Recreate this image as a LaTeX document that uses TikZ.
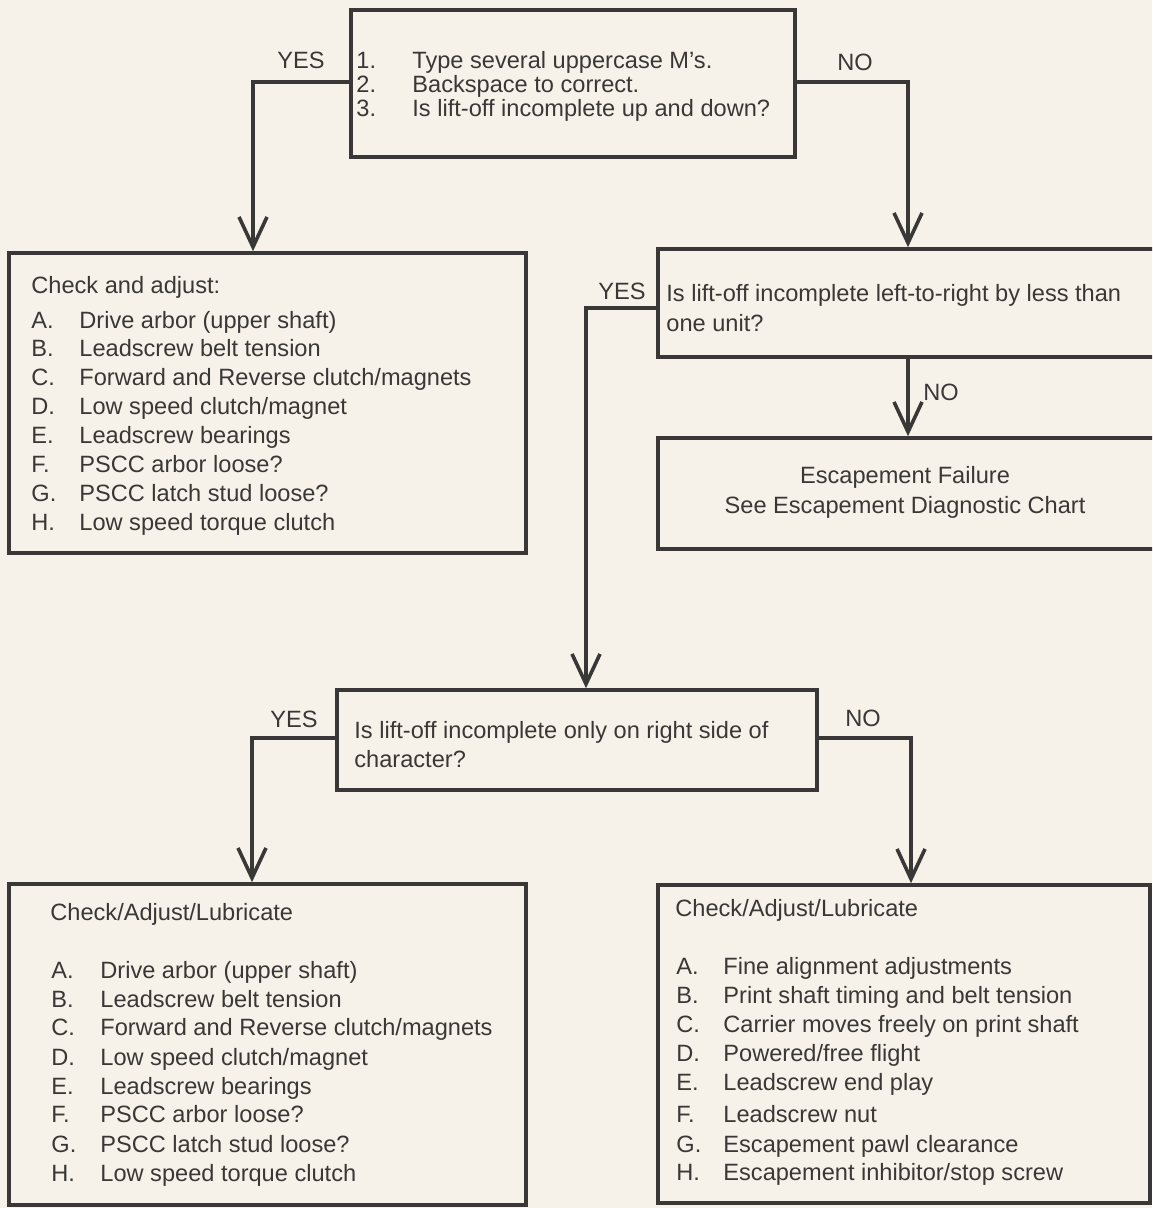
\documentclass[tikz,border=0pt]{standalone}
\usepackage{fontspec}
\setmainfont{Liberation Sans}
\usetikzlibrary{arrows.meta,fit}
\definecolor{paper}{RGB}{246,242,233}
\definecolor{ink}{RGB}{58,56,54}
\begin{document}
\begin{tikzpicture}[x=0.5pt,y=-0.5pt,
  box/.style={draw=ink, line width=1.8pt, inner sep=0pt},
  txt/.style={anchor=west, inner sep=0pt, text height=8.45pt, text depth=0pt, text=ink, font=\fontsize{11.8}{14}\selectfont},
  ctr/.style={txt, anchor=center},
  arr/.style={draw=ink, line width=1.8pt, -{Straight Barb[length=15pt,width=14pt]}}]
\useasboundingbox (0,0) rectangle (1152,1208);
\fill[paper] (0,0) rectangle (1152,1208);
\clip (0,0) rectangle (1152,1208);

% boxes
\node[box, fit={(351,10) (795,157)}] (top) {};
\node[box, fit={(9,253) (526,553)}] (left) {};
\node[box, fit={(658,249) (1175,357)}] (r1) {};
\node[box, fit={(658,438) (1175,549)}] (r2) {};
\node[box, fit={(337,690) (817,790)}] (mid) {};
\node[box, fit={(9,884) (526,1205)}] (bl) {};
\node[box, fit={(658,885) (1150,1203)}] (br) {};

% bend points
\coordinate (c1) at (253,82);
\coordinate (c2) at (908,82);
\coordinate (c3) at (586,308);
\coordinate (c5) at (252,738);
\coordinate (c6) at (911,738);

% connectors
\draw[arr] (top.west |- c1) -- (c1) -- (left.north -| c1);
\draw[arr] (top.east |- c2) -- (c2) -- (r1.north -| c2);
\draw[arr] (r1.west |- c3) -- (c3) -- (mid.north -| c3);
\draw[arr] (r1.south -| c2) -- (r2.north -| c2);
\draw[arr] (mid.west |- c5) -- (c5) -- (bl.north -| c5);
\draw[arr] (mid.east |- c6) -- (c6) -- (br.north -| c6);

% labels
\node[ctr] (y1) at (301,60) {YES};
\node[ctr] (n1) at (855,62) {NO};
\node[ctr] (y2) at (622,291) {YES};
\node[ctr] (n2) at (941,392) {NO};
\node[ctr] (y3) at (294,719) {YES};
\node[ctr] (n3) at (863,718) {NO};

% top box
\node[txt] (tn1) at (356,60) {1.};
\node[txt] (tt1) at (412,60) {Type several uppercase M’s.};
\node[txt] (tn2) at (356,84) {2.};
\node[txt] (tt2) at (412,84) {Backspace to correct.};
\node[txt] (tn3) at (356,108) {3.};
\node[txt] (tt3) at (412,108) {Is lift-off incomplete up and down?};

% left box
\node[txt] (lt) at (31,285) {Check and adjust:};
\foreach \l/\t/\y [count=\i] in {
  A./Drive arbor (upper shaft)/320,
  B./Leadscrew belt tension/348,
  C./Forward and Reverse clutch\slash magnets/377,
  D./Low speed clutch\slash magnet/406,
  E./Leadscrew bearings/435,
  F./PSCC arbor loose?/464,
  G./PSCC latch stud loose?/493,
  H./Low speed torque clutch/522}{
  \node[txt] (ll\i) at (31,\y) {\l};
  \node[txt] (lx\i) at (79,\y) {\t};
}

% right box 1
\node[txt] (r1a) at (666,293) {Is lift-off incomplete left-to-right by less than};
\node[txt] (r1b) at (666,323) {one unit?};

% right box 2
\node[ctr] (r2a) at (905,475) {Escapement Failure};
\node[ctr] (r2b) at (905,505) {See Escapement Diagnostic Chart};

% middle box
\node[txt] (ma) at (354,730) {Is lift-off incomplete only on right side of};
\node[txt] (mb) at (354,759) {character?};

% bottom-left box
\node[txt] (blt) at (50,912) {Check/Adjust/Lubricate};
\foreach \l/\t/\y [count=\i] in {
  A./Drive arbor (upper shaft)/970,
  B./Leadscrew belt tension/999,
  C./Forward and Reverse clutch\slash magnets/1027,
  D./Low speed clutch\slash magnet/1057,
  E./Leadscrew bearings/1086,
  F./PSCC arbor loose?/1114,
  G./PSCC latch stud loose?/1144,
  H./Low speed torque clutch/1173}{
  \node[txt] (bll\i) at (51,\y) {\l};
  \node[txt] (blx\i) at (100,\y) {\t};
}

% bottom-right box
\node[txt] (brt) at (675,908) {Check/Adjust/Lubricate};
\foreach \l/\t/\y [count=\i] in {
  A./Fine alignment adjustments/966,
  B./Print shaft timing and belt tension/995,
  C./Carrier moves freely on print shaft/1024,
  D./Powered\slash free flight/1053,
  E./Leadscrew end play/1082,
  F./Leadscrew nut/1114,
  G./Escapement pawl clearance/1144,
  H./Escapement inhibitor\slash stop screw/1172}{
  \node[txt] (brl\i) at (676,\y) {\l};
  \node[txt] (brx\i) at (723,\y) {\t};
}
\end{tikzpicture}
\end{document}
